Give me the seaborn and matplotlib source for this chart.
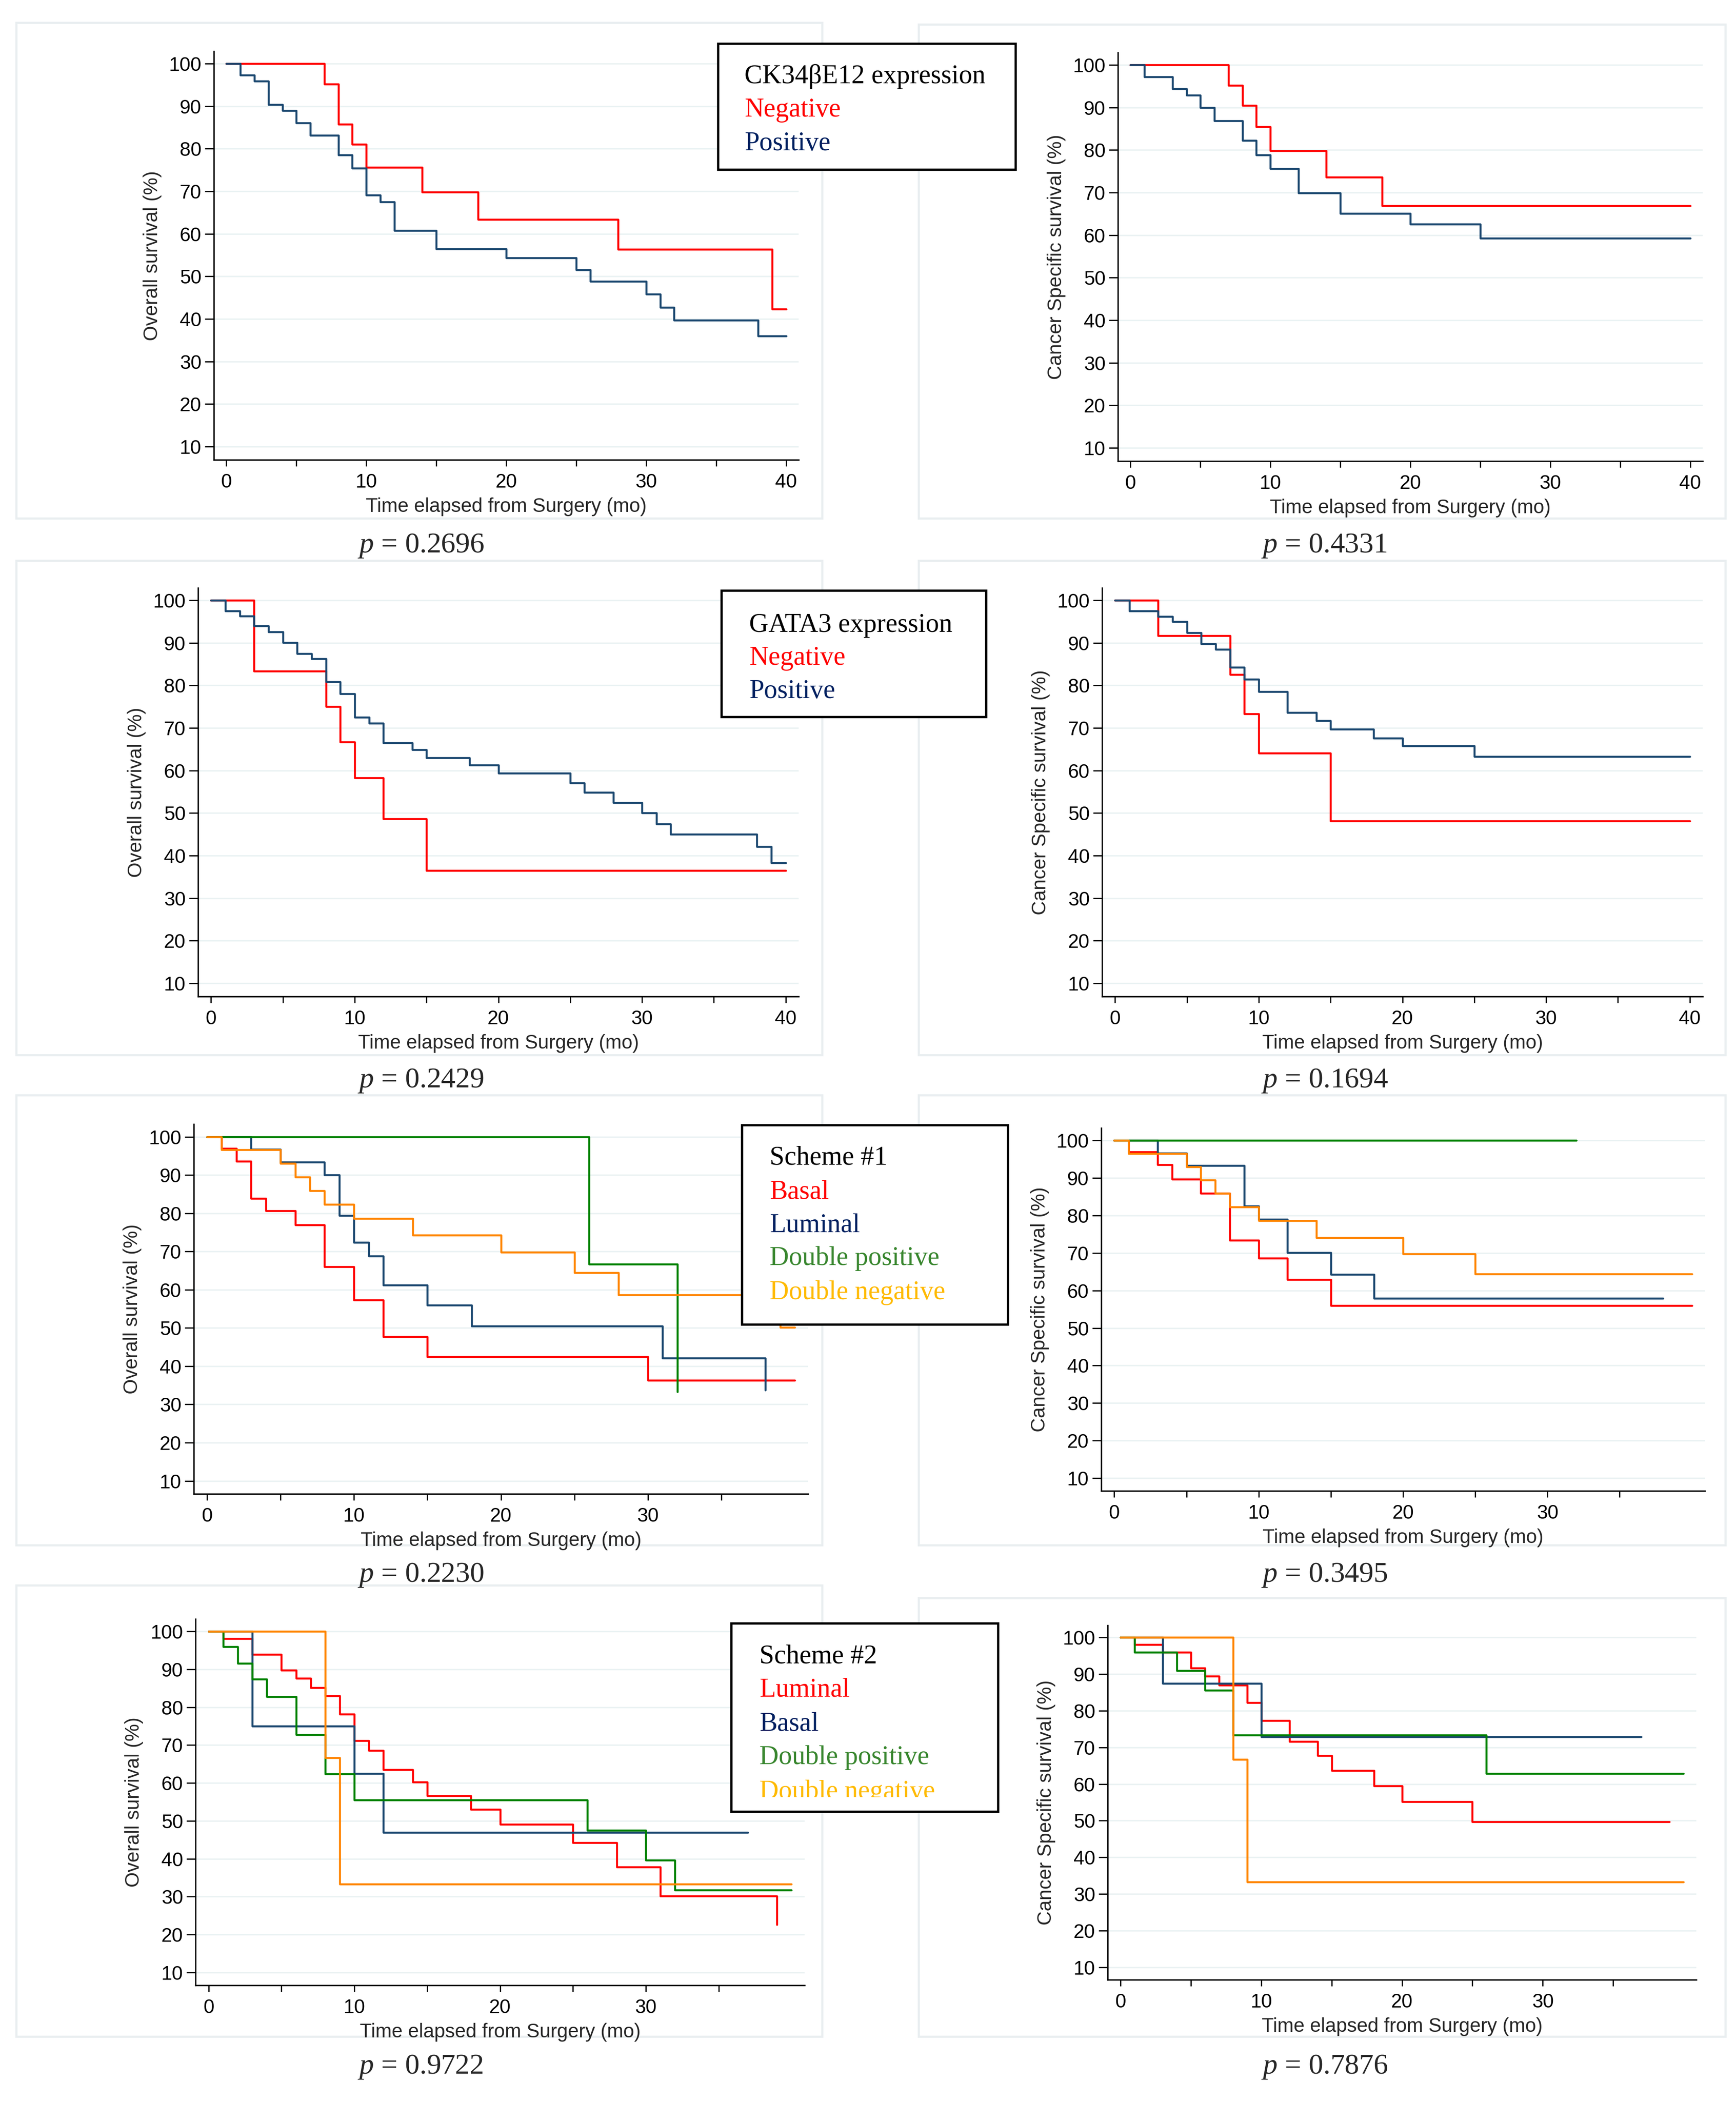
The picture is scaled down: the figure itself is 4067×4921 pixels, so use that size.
import numpy as np
import pandas as pd
import seaborn as sns
import matplotlib.pyplot as plt
from matplotlib.patches import Rectangle
from matplotlib.transforms import Bbox, TransformedBbox

# style
sns.set_style('ticks')
plt.rcParams['font.family'] = ['Liberation Sans', 'DejaVu Sans']
plt.rcParams['mathtext.fontset'] = 'custom'
plt.rcParams['mathtext.it'] = 'Liberation Serif:italic'
plt.rcParams['mathtext.rm'] = 'Liberation Serif'

W, H, DPI = 4067, 4921, 300
SERIF = ['Liberation Serif', 'DejaVu Serif']

# ---- data: step functions (time where each level starts, last point = end) ----
# Row 1: CK34βE12
ck_os_neg_t = [0, 7, 8, 9, 10, 14, 18, 28, 39, 40]
ck_os_neg_s = [100, 95.2, 85.7, 81.0, 75.6, 69.8, 63.4, 56.4, 42.3, 42.3]
ck_os_pos_t = [0, 1, 2, 3, 4, 5, 6, 8, 9, 10, 11, 12, 15, 20, 25, 26, 30, 31, 32, 38, 40]
ck_os_pos_s = [100, 97.3, 95.9, 90.4, 89.0, 86.0, 83.1, 78.5, 75.4, 69.1, 67.5, 60.8, 56.5,
               54.3, 51.5, 48.8, 45.8, 42.7, 39.7, 36.0, 36.0]
ck_css_neg_t = [0, 7, 8, 9, 10, 14, 18, 40]
ck_css_neg_s = [100, 95.2, 90.5, 85.4, 79.8, 73.6, 66.9, 66.9]
ck_css_pos_t = [0, 1, 3, 4, 5, 6, 8, 9, 10, 12, 15, 20, 25, 40]
ck_css_pos_s = [100, 97.2, 94.4, 92.9, 90.0, 86.9, 82.2, 78.8, 75.6, 69.9, 65.1, 62.6, 59.3, 59.3]

# Row 2: GATA3
gata_os_neg_t = [0, 3, 8, 9, 10, 12, 15, 40]
gata_os_neg_s = [100, 83.3, 75.0, 66.7, 58.3, 48.6, 36.5, 36.5]
gata_os_pos_t = [0, 1, 2, 3, 4, 5, 6, 7, 8, 9, 10, 11, 12, 14, 15, 18, 20, 25, 26, 28, 30,
                 31, 32, 38, 39, 40]
gata_os_pos_s = [100, 97.5, 96.3, 94.0, 92.6, 90.1, 87.5, 86.2, 80.8, 78.0, 72.5, 71.1, 66.5,
                 64.9, 63.0, 61.3, 59.4, 57.1, 54.8, 52.4, 50.0, 47.4, 45.0, 42.1, 38.3, 38.3]
gata_css_neg_t = [0, 3, 8, 9, 10, 15, 40]
gata_css_neg_s = [100, 91.7, 82.5, 73.3, 64.1, 48.1, 48.1]
gata_css_pos_t = [0, 1, 3, 4, 5, 6, 7, 8, 9, 10, 12, 14, 15, 18, 20, 25, 40]
gata_css_pos_s = [100, 97.5, 96.2, 95.0, 92.4, 89.8, 88.5, 84.2, 81.4, 78.5, 73.6, 71.7, 69.7,
                  67.6, 65.8, 63.3, 63.3]

# Row 3: Scheme #1
s1_os_basal_t = [0, 1, 2, 3, 4, 6, 8, 10, 12, 15, 30, 40]
s1_os_basal_s = [100, 96.9, 93.6, 83.9, 80.6, 77.0, 66.0, 57.3, 47.7, 42.4, 36.3, 36.3]
s1_os_lum_t = [0, 3, 5, 8, 9, 10, 11, 12, 15, 18, 31, 38]
s1_os_lum_s = [100, 96.7, 93.4, 90.0, 79.4, 72.4, 68.8, 61.2, 56.0, 50.5, 42.1, 33.7]
s1_os_dpos_t = [0, 26, 32]
s1_os_dpos_s = [100, 66.7, 33.3]
s1_os_dneg_t = [0, 1, 5, 6, 7, 8, 10, 14, 20, 25, 28, 39, 40]
s1_os_dneg_s = [100, 96.6, 93.0, 89.5, 85.9, 82.3, 78.6, 74.3, 69.8, 64.4, 58.6, 50.2, 50.2]
s1_css_basal_t = [0, 1, 3, 4, 6, 8, 10, 12, 15, 40]
s1_css_basal_s = [100, 96.9, 93.5, 89.7, 85.9, 73.4, 68.6, 62.9, 56.0, 56.0]
s1_css_lum_t = [0, 3, 5, 9, 10, 12, 15, 18, 38]
s1_css_lum_s = [100, 96.6, 93.3, 82.5, 78.9, 70.1, 64.3, 57.9, 57.9]
s1_css_dpos_t = [0, 32]
s1_css_dpos_s = [100, 100]
s1_css_dneg_t = [0, 1, 5, 6, 7, 8, 10, 14, 20, 25, 40]
s1_css_dneg_s = [100, 96.5, 93.0, 89.4, 85.9, 82.2, 78.6, 74.1, 69.7, 64.4, 64.4]

# Row 4: Scheme #2
s2_os_lum_t = [0, 1, 3, 5, 6, 7, 8, 9, 10, 11, 12, 14, 15, 18, 20, 25, 28, 31, 39]
s2_os_lum_s = [100, 98.1, 94.0, 89.8, 87.6, 85.2, 83.0, 78.2, 71.2, 68.6, 63.5, 60.2, 56.6,
               53.0, 49.1, 44.2, 37.8, 30.2, 22.6]
s2_os_basal_t = [0, 3, 10, 12, 37]
s2_os_basal_s = [100, 75.0, 62.5, 46.9, 46.9]
s2_os_dpos_t = [0, 1, 2, 3, 4, 6, 8, 10, 26, 30, 32, 40]
s2_os_dpos_s = [100, 96.0, 91.6, 87.4, 82.8, 72.8, 62.4, 55.5, 47.5, 39.6, 31.7, 31.7]
s2_os_dneg_t = [0, 8, 9, 40]
s2_os_dneg_s = [100, 66.7, 33.3, 33.3]
s2_css_lum_t = [0, 1, 3, 5, 6, 7, 9, 10, 12, 14, 15, 18, 20, 25, 39]
s2_css_lum_s = [100, 98.1, 96.0, 91.7, 89.4, 87.0, 82.2, 77.3, 71.6, 67.8, 63.7, 59.5, 55.2,
                49.7, 49.7]
s2_css_basal_t = [0, 3, 10, 37]
s2_css_basal_s = [100, 87.5, 72.9, 72.9]
s2_css_dpos_t = [0, 1, 4, 6, 8, 26, 40]
s2_css_dpos_s = [100, 96.0, 91.0, 85.6, 73.4, 62.9, 62.9]
s2_css_dneg_t = [0, 8, 9, 40]
s2_css_dneg_s = [100, 66.7, 33.3, 33.3]

p_values = ['0.2696', '0.4331', '0.2429', '0.1694', '0.2230', '0.3495', '0.9722', '0.7876']

RED, NAVY, GREEN, ORANGE = '#FF0000', '#1A476F', '#008000', '#FF8400'


def make_df(series):
    rows = []
    for name, t, s in series:
        rows.append(pd.DataFrame({'time': t, 'surv': s, 'group': name}))
    return pd.concat(rows, ignore_index=True)


panels = [
    # rect (L, T, R, B) in px, ylabel, series, ylim, xlabels
    ((501, 120, 1871, 1077), 'Overall survival (%)',
     [('neg', ck_os_neg_t, ck_os_neg_s, RED), ('pos', ck_os_pos_t, ck_os_pos_s, NAVY)],
     (6.9, 102.9), [0, 10, 20, 30, 40]),
    ((2619, 123, 3989, 1080), 'Cancer Specific survival (%)',
     [('neg', ck_css_neg_t, ck_css_neg_s, RED), ('pos', ck_css_pos_t, ck_css_pos_s, NAVY)],
     (6.9, 102.9), [0, 10, 20, 30, 40]),
    ((464, 1377, 1871, 2334), 'Overall survival (%)',
     [('neg', gata_os_neg_t, gata_os_neg_s, RED), ('pos', gata_os_pos_t, gata_os_pos_s, NAVY)],
     (6.9, 102.9), [0, 10, 20, 30, 40]),
    ((2582, 1377, 3989, 2334), 'Cancer Specific survival (%)',
     [('neg', gata_css_neg_t, gata_css_neg_s, RED), ('pos', gata_css_pos_t, gata_css_pos_s, NAVY)],
     (6.9, 102.9), [0, 10, 20, 30, 40]),
    ((454, 2633, 1893, 3499), 'Overall survival (%)',
     [('basal', s1_os_basal_t, s1_os_basal_s, RED), ('lum', s1_os_lum_t, s1_os_lum_s, NAVY),
      ('dpos', s1_os_dpos_t, s1_os_dpos_s, GREEN), ('dneg', s1_os_dneg_t, s1_os_dneg_s, ORANGE)],
     (6.6, 103.3), [0, 10, 20, 30]),
    ((2580, 2642, 3994, 3492), 'Cancer Specific survival (%)',
     [('basal', s1_css_basal_t, s1_css_basal_s, RED), ('lum', s1_css_lum_t, s1_css_lum_s, NAVY),
      ('dpos', s1_css_dpos_t, s1_css_dpos_s, GREEN), ('dneg', s1_css_dneg_t, s1_css_dneg_s, ORANGE)],
     (6.6, 103.3), [0, 10, 20, 30]),
    ((458, 3792, 1885, 4650), 'Overall survival (%)',
     [('lum', s2_os_lum_t, s2_os_lum_s, RED), ('basal', s2_os_basal_t, s2_os_basal_s, NAVY),
      ('dpos', s2_os_dpos_t, s2_os_dpos_s, GREEN), ('dneg', s2_os_dneg_t, s2_os_dneg_s, ORANGE)],
     (6.6, 103.3), [0, 10, 20, 30]),
    ((2595, 3807, 3974, 4637), 'Cancer Specific survival (%)',
     [('lum', s2_css_lum_t, s2_css_lum_s, RED), ('basal', s2_css_basal_t, s2_css_basal_s, NAVY),
      ('dpos', s2_css_dpos_t, s2_css_dpos_s, GREEN), ('dneg', s2_css_dneg_t, s2_css_dneg_s, ORANGE)],
     (6.6, 103.3), [0, 10, 20, 30]),
]

p_pos = [(838, 1294), (2955, 1294), (838, 2547), (2955, 2547),
         (838, 3705), (2955, 3705), (838, 4857), (2955, 4857)]

frames = [(38, 53, 1926, 1214), (2152, 57, 4042, 1214),
          (38, 1313, 1926, 2471), (2152, 1313, 4042, 2471),
          (38, 2565, 1926, 3619), (2152, 2565, 4042, 3619),
          (38, 3713, 1926, 4770), (2152, 3743, 4042, 4770)]

fig = plt.figure(figsize=(W / DPI, H / DPI), dpi=DPI)


def fx(x):
    return x / W


def fy(y):
    return 1 - y / H


for (l, t, r, b) in frames:
    fig.add_artist(Rectangle((fx(l), fy(b)), fx(r - l), (b - t) / H, transform=fig.transFigure,
                             facecolor='none', edgecolor='#E9EEF0', lw=1.2, zorder=-1))

for i, (rect, ylab, series, ylim, xlabs) in enumerate(panels):
    l, t, r, b = rect
    ax = fig.add_axes([fx(l), fy(b), (r - l) / W, (b - t) / H])
    df = make_df([(n, tt, ss) for n, tt, ss, c in series])
    pal = {n: c for n, tt, ss, c in series}
    sns.lineplot(data=df, x='time', y='surv', hue='group', hue_order=[s[0] for s in series],
                 palette=pal, estimator=None, sort=False, drawstyle='steps-post',
                 lw=1.1, legend=False, ax=ax)
    ax.set_xlim(-0.9, 40.9)
    ax.set_ylim(*ylim)
    ax.set_xticks(xlabs)
    ax.set_xticks([5, 15, 25, 35], minor=True)
    ax.set_yticks(range(10, 101, 10))
    ax.yaxis.grid(True, color='#EAF2F3', lw=0.8)
    ax.set_axisbelow(True)
    sns.despine(ax=ax)
    for sp in ['left', 'bottom']:
        ax.spines[sp].set_linewidth(0.8)
        ax.spines[sp].set_color('black')
    ax.tick_params(axis='x', which='both', length=3.5, width=0.7, labelsize=11, pad=4, colors='black')
    ax.tick_params(axis='y', length=5, width=0.7, labelsize=11, pad=2, colors='black')
    ax.set_xlabel('Time elapsed from Surgery (mo)', fontsize=11, labelpad=3)
    ax.set_ylabel(ylab, fontsize=11)

    px, py = p_pos[i]
    fig.text(fx(px), fy(py), '$p$ = ' + p_values[i], fontsize=16.3, family=SERIF,
             ha='left', va='baseline')

# legend boxes drawn on top of the panels
legends = [
    ((1682, 102, 2379, 397), 1744, [195, 273, 352],
     ['CK34βE12 expression', 'Negative', 'Positive'], ['black', '#FF0000', '#002060'], None),
    ((1690, 1383, 2310, 1679), 1755, [1480, 1557, 1635],
     ['GATA3 expression', 'Negative', 'Positive'], ['black', '#FF0000', '#002060'], None),
    ((1738, 2635, 2361, 3102), 1803, [2728, 2807, 2886, 2963, 3043],
     ['Scheme #1', 'Basal', 'Luminal', 'Double positive', 'Double negative'],
     ['black', '#FF0000', '#002060', '#38862E', '#FFBA00'], None),
    ((1713, 3802, 2338, 4243), 1779, [3895, 3973, 4053, 4132, 4213],
     ['Scheme #2', 'Luminal', 'Basal', 'Double positive', 'Double negative'],
     ['black', '#FF0000', '#002060', '#38862E', '#FFBA00'], 4209),
]

for (l, t, r, b), tx, bases, labels, colors, clip_y in legends:
    fig.add_artist(Rectangle((fx(l), fy(b)), fx(r - l), (b - t) / H, transform=fig.transFigure,
                             facecolor='white', edgecolor='black', lw=1.3, zorder=4))
    for y, s, c in zip(bases, labels, colors):
        txt = fig.text(fx(tx), fy(y), s, fontsize=15.0, family=SERIF, color=c,
                       ha='left', va='baseline', zorder=6)
        if clip_y is not None:
            bb = Bbox.from_extents(fx(l), fy(clip_y), fx(r), fy(t))
            txt.set_clip_box(TransformedBbox(bb, fig.transFigure))
            txt.set_clip_on(True)

fig.savefig('out.png', dpi=DPI, facecolor='white')
